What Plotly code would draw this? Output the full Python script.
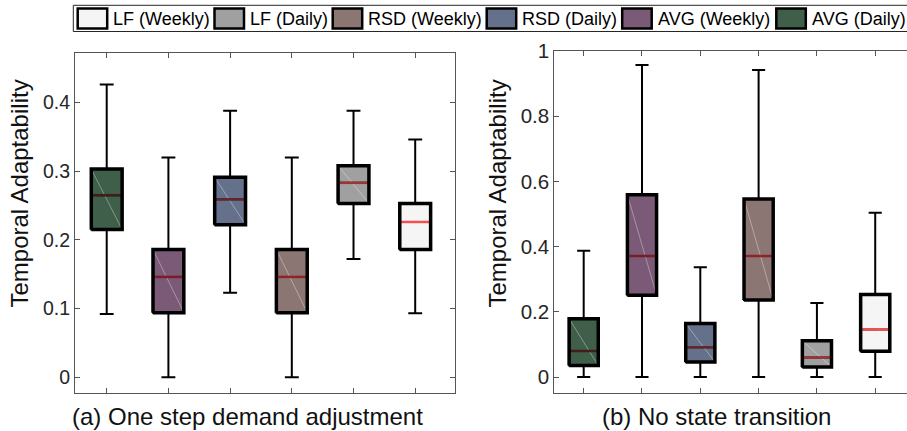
import plotly.graph_objects as go

# ---------------- data ----------------
series = ["AVG (Daily)", "AVG (Weekly)", "RSD (Daily)", "RSD (Weekly)", "LF (Daily)", "LF (Weekly)"]
positions = [1, 2, 3, 4, 5, 6]

# (a) One step demand adjustment
a_upper = [0.426, 0.320, 0.388, 0.320, 0.388, 0.346]
a_q3 = [0.303, 0.186, 0.291, 0.186, 0.308, 0.253]
a_median = [0.265, 0.146, 0.259, 0.146, 0.283, 0.226]
a_q1 = [0.215, 0.094, 0.222, 0.094, 0.253, 0.186]
a_lower = [0.092, 0.0, 0.123, 0.0, 0.172, 0.093]

# (b) No state transition
b_upper = [0.387, 0.957, 0.337, 0.942, 0.227, 0.504]
b_q3 = [0.179, 0.559, 0.164, 0.546, 0.111, 0.253]
b_median = [0.080, 0.371, 0.091, 0.371, 0.060, 0.146]
b_q1 = [0.035, 0.251, 0.046, 0.236, 0.031, 0.079]
b_lower = [0.0, 0.0, 0.0, 0.0, 0.0, 0.0]

legend_order = ["LF (Weekly)", "LF (Daily)", "RSD (Weekly)", "RSD (Daily)", "AVG (Weekly)", "AVG (Daily)"]

a_yticks = [0, 0.1, 0.2, 0.3, 0.4]
b_yticks = [0, 0.2, 0.4, 0.6, 0.8, 1]

# ---------------- style ----------------
fills = {
    "AVG (Daily)": "#3f5f4a",
    "AVG (Weekly)": "#7a5a76",
    "RSD (Daily)": "#65718b",
    "RSD (Weekly)": "#8c7674",
    "LF (Daily)": "#a0a0a0",
    "LF (Weekly)": "#f5f5f5",
}
FONT = "Liberation Sans, Arial, sans-serif"
W, H = 907, 431
BOXW = 0.5


def median_color(hexcol):
    r = int(hexcol[1:3], 16)
    g = int(hexcol[3:5], 16)
    b = int(hexcol[5:7], 16)
    return "rgb(%d,%d,%d)" % (r, int(g * 0.33), int(b * 0.33))


def px(x):
    return x / W


def py(y):
    return 1 - y / H


fig = go.Figure()


def add_panel(xa, ya, upper, q3, med, q1, lower):
    for i, name in enumerate(series):
        p = positions[i]
        fig.add_trace(go.Box(
            x=[p], q1=[q1[i]], median=[med[i]], q3=[q3[i]],
            lowerfence=[lower[i]], upperfence=[upper[i]],
            width=BOXW, whiskerwidth=0.45,
            fillcolor=fills[name], line=dict(color="black", width=2),
            boxpoints=False, showlegend=False, hoverinfo="skip",
            xaxis=xa, yaxis=ya,
        ))
        x0, x1 = p - BOXW / 2, p + BOXW / 2
        # faint diagonal rendering artefact
        fig.add_trace(go.Scatter(
            x=[x0, x1], y=[q3[i], q1[i]], mode="lines",
            line=dict(color="rgba(255,255,255,0.35)", width=1),
            showlegend=False, hoverinfo="skip", xaxis=xa, yaxis=ya))
        # median
        fig.add_trace(go.Scatter(
            x=[x0, x1], y=[med[i], med[i]], mode="lines",
            line=dict(color=median_color(fills[name]), width=2.5),
            showlegend=False, hoverinfo="skip", xaxis=xa, yaxis=ya))
        # thick outline
        fig.add_trace(go.Scatter(
            x=[x0, x1, x1, x0, x0], y=[q1[i], q1[i], q3[i], q3[i], q1[i]],
            mode="lines", line=dict(color="black", width=3.5),
            showlegend=False, hoverinfo="skip", xaxis=xa, yaxis=ya))


add_panel("x", "y", a_upper, a_q3, a_median, a_q1, a_lower)
add_panel("x2", "y2", b_upper, b_q3, b_median, b_q1, b_lower)

axis_common = dict(
    showline=True, linecolor="#555555", linewidth=1,
    ticks="inside", ticklen=5, tickcolor="#555555", tickwidth=1,
    showgrid=False, zeroline=False, automargin=False,
)

fig.update_layout(
    width=W, height=H,
    margin=dict(l=0, r=0, t=0, b=0, pad=0),
    paper_bgcolor="white", plot_bgcolor="white",
    showlegend=False,
    font=dict(family=FONT, color="#262626"),
    xaxis=dict(domain=[px(75), px(455)], range=[0.486, 6.645], tickvals=positions,
               showticklabels=False, mirror="ticks", anchor="y", **axis_common),
    yaxis=dict(domain=[py(393), py(53)], range=[-0.023, 0.472], tickvals=a_yticks,
               ticktext=[str(v) for v in a_yticks], tickfont=dict(size=19.5, color="#262626"),
               mirror="ticks", anchor="x", **axis_common),
    xaxis2=dict(domain=[px(554.3), 1.0], range=[0.496, 6.545], tickvals=positions,
                showticklabels=False, mirror="ticks", anchor="y2", **axis_common),
    yaxis2=dict(domain=[py(393), py(51)], range=[-0.049, 1.0], tickvals=b_yticks,
                ticktext=[str(v) for v in b_yticks], tickfont=dict(size=20.5, color="#262626"),
                mirror=False, anchor="x2", **axis_common),
)

annotations = [
    dict(text="(a) One step demand adjustment", x=px(247.5), y=py(416.5),
         xref="paper", yref="paper", showarrow=False, xanchor="center", yanchor="middle",
         font=dict(size=24, family=FONT, color="#111111")),
    dict(text="(b) No state transition", x=px(716.7), y=py(416.5),
         xref="paper", yref="paper", showarrow=False, xanchor="center", yanchor="middle",
         font=dict(size=24, family=FONT, color="#111111")),
    dict(text="Temporal Adaptability", x=px(18.5), y=py(194), textangle=-90,
         xref="paper", yref="paper", showarrow=False, xanchor="center", yanchor="middle",
         font=dict(size=24, family=FONT, color="#111111")),
    dict(text="Temporal Adaptability", x=px(496.5), y=py(194), textangle=-90,
         xref="paper", yref="paper", showarrow=False, xanchor="center", yanchor="middle",
         font=dict(size=24, family=FONT, color="#111111")),
]

# custom legend (MATLAB style)
shapes = [dict(type="rect", xref="paper", yref="paper", x0=px(73.3), x1=1.01,
               y0=py(31.5), y1=py(5.3), line=dict(color="#262626", width=1),
               fillcolor="white", layer="above")]
item_starts = [76.7, 213.5, 331.7, 485.7, 621.2, 775.3]
for name, s in zip(legend_order, item_starts):
    shapes.append(dict(type="rect", xref="paper", yref="paper",
                       x0=px(s + 1), x1=px(s + 30.5), y0=py(28.5), y1=py(8.5),
                       fillcolor=fills[name], line=dict(color="black", width=2.5),
                       layer="above"))
    annotations.append(dict(text=name, x=px(s + 34.5), y=py(18.6), xref="paper", yref="paper",
                            showarrow=False, xanchor="left", yanchor="middle",
                            font=dict(size=18, family=FONT, color="black")))

fig.update_layout(shapes=shapes, annotations=annotations)

fig.write_html(
    "out.html",
    config={"displayModeBar": False, "staticPlot": True},
    post_script="document.body.style.margin='0px';document.body.style.padding='0px';"
                "document.body.style.overflow='hidden';",
)
